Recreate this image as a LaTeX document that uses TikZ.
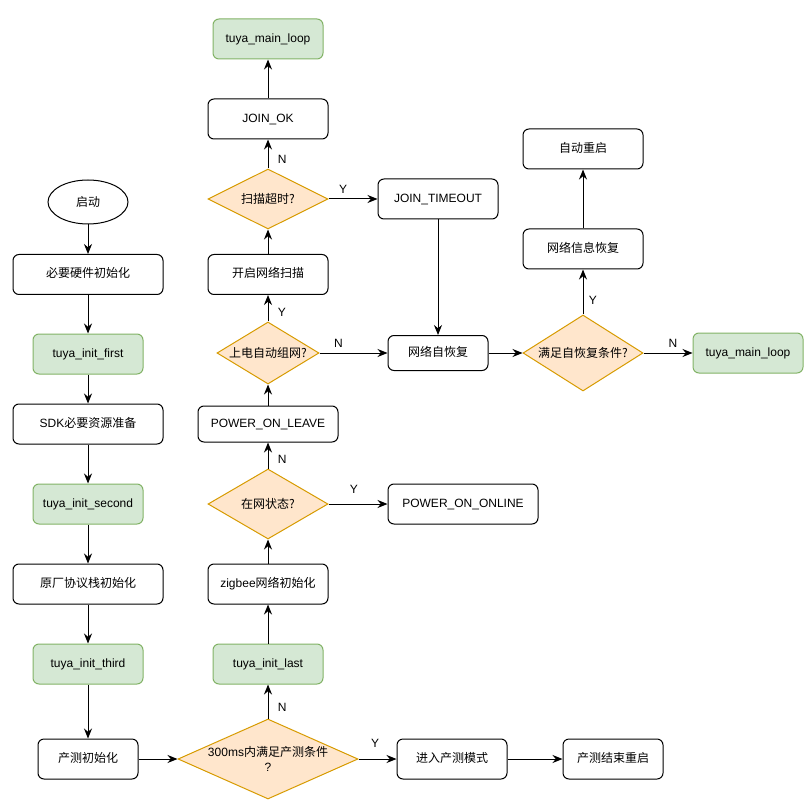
\documentclass[tikz,border=0pt]{standalone}
\usepackage{fontspec}
\setmainfont{Liberation Sans}
\newfontfamily\cjk{Noto Sans CJK SC}
\usetikzlibrary{arrows.meta, shapes.geometric}
\definecolor{gfill}{HTML}{D5E8D4}
\definecolor{gline}{HTML}{82B366}
\definecolor{ofill}{HTML}{FFE6CC}
\definecolor{oline}{HTML}{D79B00}
\tikzset{
  >={Stealth[length=7.5pt,width=6pt]},
  font=\fontsize{9}{11}\selectfont,
  box/.style={
    draw=black, fill=white, line width=0.75pt,
    rounded corners=4.5pt, align=center, inner sep=2pt,
    text height=7pt, text depth=2pt,
    minimum width=#1, minimum height=30pt
  },
  box/.default=90pt,
  gbox/.style={box=82.5pt, draw=gline, fill=gfill},
  dia/.style={diamond, draw=oline, fill=ofill, line width=0.75pt, inner sep=0pt},
  flow/.style={->, line width=0.75pt, draw=black},
  yn/.style={inner sep=2pt}
}
\begin{document}
\begin{tikzpicture}[x=0.75pt, y=-0.75pt]
  \useasboundingbox (0,0) rectangle (809,812);
  % start-up chain
  \node[draw, ellipse, line width=0.75pt, minimum width=60pt, minimum height=33pt] (start) at (88,202) {\cjk 启动};
  \node[box=112.5pt] (hw) at (88,274.5) {\cjk 必要硬件初始化};
  \node[gbox] (if1) at (88,354) {tuya\_init\_first};
  \node[box=112.5pt] (sdk) at (88,424) {SDK{\cjk 必要资源准备}};
  \node[gbox] (if2) at (88,504) {tuya\_init\_second};
  \node[box=112.5pt] (stack) at (88,584) {\cjk 原厂协议栈初始化};
  \node[gbox] (if3) at (88,664) {tuya\_init\_third};
  \node[box=75pt] (mfg) at (88,759) {\cjk 产测初始化};
  \draw[flow] (start) -- (hw); \draw[flow] (hw) -- (if1); \draw[flow] (if1) -- (sdk);
  \draw[flow] (sdk) -- (if2); \draw[flow] (if2) -- (stack); \draw[flow] (stack) -- (if3);
  \draw[flow] (if3) -- (mfg);

  % production test
  \node[dia, minimum width=135pt, minimum height=60pt,
    label={[align=center]center:{300ms{\cjk 内满足产测条件}\\?}}] (t300) at (268,759) {};
  \node[box=82.5pt] (pm) at (452,759) {\cjk 进入产测模式};
  \node[box=75pt] (pmend) at (613,759) {\cjk 产测结束重启};
  \draw[flow] (mfg) -- (t300);
  \draw[flow] (t300) -- node[yn, pos=0.44, above=6.5pt] {Y} (pm);
  \draw[flow] (pm) -- (pmend);

  % network start
  \node[gbox] (ilast) at (268,664) {tuya\_init\_last};
  \node[box=90pt] (zb) at (268,584) {zigbee{\cjk 网络初始化}};
  \node[dia, minimum width=90pt, minimum height=52.5pt, label=center:{\cjk 在网状态?}] (online) at (268,504) {};
  \node[box=112.5pt] (pon) at (463,504) {POWER\_ON\_ONLINE};
  \node[box=105pt, minimum height=27pt] (pleave) at (268,424) {POWER\_ON\_LEAVE};
  \node[dia, minimum width=76.5pt, minimum height=46.5pt, label=center:{\cjk 上电自动组网?}] (auto) at (268,353) {};
  \node[box=90pt] (scan) at (268,274.5) {\cjk 开启网络扫描};
  \node[dia, minimum width=90pt, minimum height=45pt, label=center:{\cjk 扫描超时?}] (tout) at (268,199) {};
  \node[box=90pt] (jok) at (268,119) {JOIN\_OK};
  \node[gbox] (loop1) at (268,39) {tuya\_main\_loop};
  \draw[flow] (t300) -- node[yn, pos=0.34, right=5pt] {N} (ilast);
  \draw[flow] (ilast) -- (zb); \draw[flow] (zb) -- (online);
  \draw[flow] (online) -- node[yn, pos=0.43, above=5.5pt] {Y} (pon);
  \draw[flow] (online) -- node[yn, pos=0.37, right=5pt] {N} (pleave);
  \draw[flow] (pleave) -- (auto);
  \draw[flow] (auto) -- node[yn, pos=0.34, right=5pt] {Y} (scan);
  \draw[flow] (scan) -- (tout);
  \draw[flow] (tout) -- node[yn, pos=0.3, right=5pt] {N} (jok);
  \draw[flow] (jok) -- (loop1);

  % self recovery
  \node[box=90pt] (jto) at (438,199) {JOIN\_TIMEOUT};
  \node[box=75pt, minimum height=26.25pt] (rec) at (438,353) {\cjk 网络自恢复};
  \node[dia, minimum width=90pt, minimum height=57pt, label=center:{\cjk 满足自恢复条件?}] (cond) at (583,353) {};
  \node[gbox] (loop2) at (748,353) {tuya\_main\_loop};
  \node[box=90pt] (nrec) at (583,249) {\cjk 网络信息恢复};
  \node[box=90pt] (reboot) at (583,149) {\cjk 自动重启};
  \draw[flow] (tout) -- node[yn, pos=0.3, above=1.5pt] {Y} (jto);
  \draw[flow] (auto) -- node[yn, pos=0.28, above=1.5pt] {N} (rec);
  \draw[flow] (jto) -- (rec); \draw[flow] (rec) -- (cond);
  \draw[flow] (cond) -- node[yn, pos=0.31, right=2pt] {Y} (nrec);
  \draw[flow] (cond) -- node[yn, pos=0.6, above=1.5pt] {N} (loop2);
  \draw[flow] (nrec) -- (reboot);
\end{tikzpicture}
\end{document}
